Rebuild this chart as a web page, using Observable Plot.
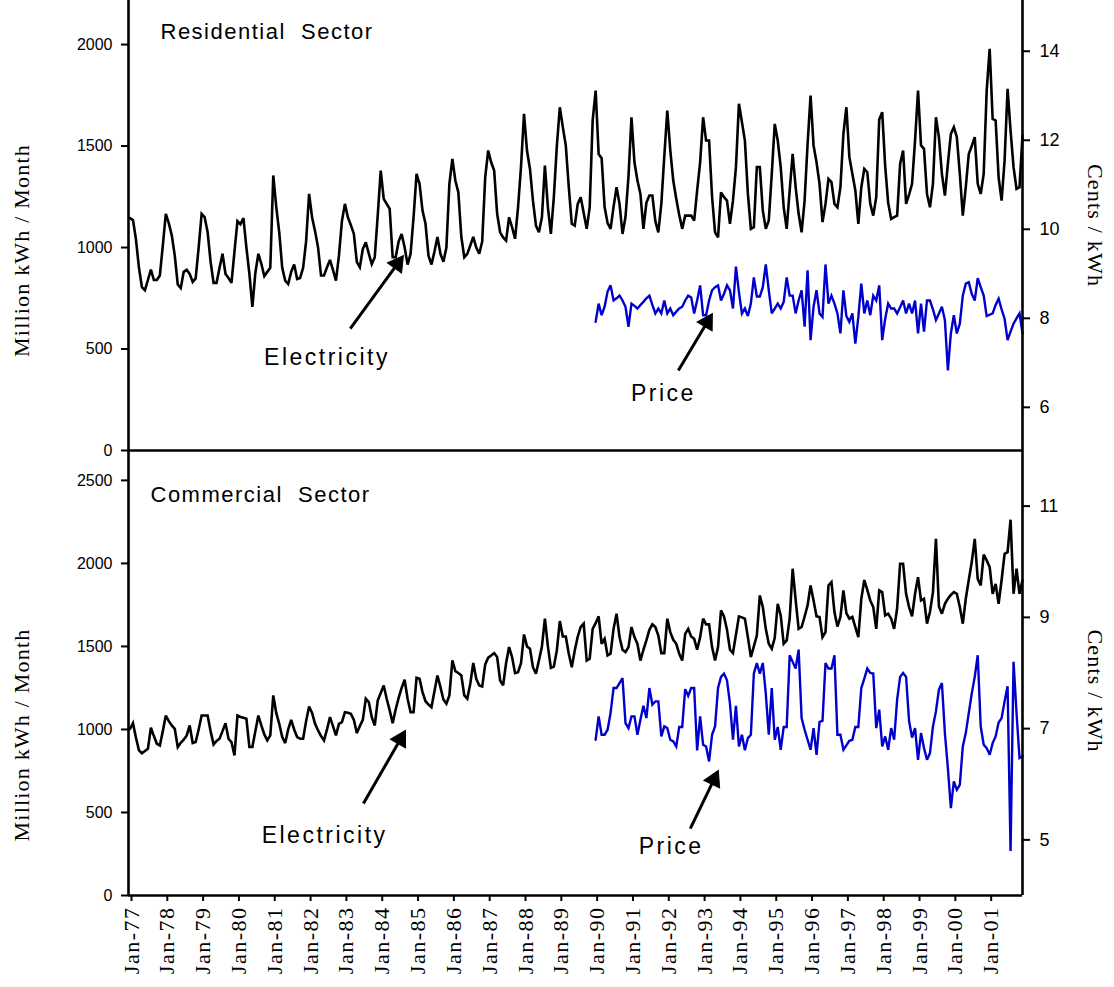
<!DOCTYPE html>
<html>
<head>
<meta charset="utf-8">
<script src="https://cdn.jsdelivr.net/npm/d3@7"></script>
<script src="https://cdn.jsdelivr.net/npm/@observablehq/plot@0.6"></script>
<style>
  html, body { margin: 0; padding: 0; background: #fff; }
  #chart { width: 1114px; height: 987px; position: relative; overflow: hidden; background:#fff; }
  #chart svg { display: block; overflow: visible; }
  g[aria-description="annotation"] text { letter-spacing: 2.5px; }
  g[aria-description="panel-title"] text { letter-spacing: 1.5px; }
  g[aria-description="axis-title"] text { letter-spacing: 1.2px; }
  g[aria-label="x-axis tick label"] text { letter-spacing: 1.5px; }
</style>
</head>
<body>
<div id="chart"></div>
<script>
// ---------------- data ----------------
const tickLabels = ["Jan-77","Jan-78","Jan-79","Jan-80","Jan-81","Jan-82","Jan-83","Jan-84","Jan-85","Jan-86","Jan-87","Jan-88","Jan-89","Jan-90","Jan-91","Jan-92","Jan-93","Jan-94","Jan-95","Jan-96","Jan-97","Jan-98","Jan-99","Jan-00","Jan-01"];
const priceStartMonth = 156; // Jan-90 (months since Jan-77)

// Residential electricity, million kWh / month, Jan-77 .. Dec-01
const resElectricity = [
  1145,1135,1040,900,805,790,840,891,840,840,862,1010,
  1166,1120,1060,960,818,800,880,890,870,830,848,1000,
  1166,1150,1077,930,826,826,900,969,870,850,826,980,
  1130,1115,1145,1000,870,708,875,969,920,859,880,900,
  1355,1200,1075,900,837,820,880,916,845,850,900,1030,
  1264,1149,1080,1001,862,862,903,939,890,837,960,1130,
  1215,1149,1110,1067,928,903,993,1026,970,918,952,1160,
  1379,1240,1215,1190,952,952,1030,1067,1001,916,969,1150,
  1363,1314,1182,1117,960,916,980,1052,969,930,1000,1314,
  1437,1330,1272,1052,952,969,1010,1052,1000,969,1030,1346,
  1478,1420,1379,1166,1075,1050,1034,1149,1100,1043,1198,1400,
  1659,1478,1387,1231,1108,1075,1149,1404,1198,1067,1250,1500,
  1691,1593,1503,1297,1117,1108,1215,1248,1170,1092,1198,1626,
  1773,1461,1440,1200,1120,1092,1200,1297,1215,1067,1150,1350,
  1642,1420,1330,1264,1092,1220,1256,1256,1130,1075,1215,1450,
  1675,1480,1330,1240,1160,1092,1157,1157,1157,1133,1280,1420,
  1642,1527,1527,1250,1075,1050,1272,1248,1231,1117,1231,1396,
  1708,1618,1527,1264,1092,1100,1396,1396,1182,1092,1133,1363,
  1609,1527,1396,1198,1092,1281,1461,1297,1166,1075,1231,1510,
  1748,1503,1420,1314,1125,1215,1338,1322,1215,1198,1297,1560,
  1691,1445,1363,1281,1117,1297,1387,1371,1215,1157,1248,1630,
  1667,1400,1220,1141,1150,1157,1412,1478,1215,1260,1314,1527,
  1773,1503,1486,1264,1198,1314,1642,1544,1363,1256,1412,1560,
  1593,1544,1363,1157,1297,1461,1500,1544,1314,1264,1363,1773,
  1979,1634,1626,1346,1231,1428,1782,1576,1396,1289,1297,1552
];
// Residential price, cents / kWh, Jan-90 .. Dec-01
const resPrice = [
  7.92,8.33,8.07,8.26,8.60,8.74,8.40,8.45,8.51,8.40,8.26,7.81,
  8.33,8.28,8.22,8.30,8.37,8.45,8.51,8.30,8.11,8.22,8.11,8.40,
  8.11,8.22,8.07,8.15,8.22,8.26,8.40,8.51,8.47,8.11,8.40,8.74,
  8.07,8.07,8.40,8.63,8.70,8.74,8.40,8.55,8.74,8.63,8.22,9.16,
  8.59,8.11,8.22,8.05,8.33,8.92,8.49,8.49,8.70,9.21,8.63,8.11,
  8.22,8.33,8.22,8.37,8.92,8.51,8.51,8.11,8.40,8.63,7.81,9.08,
  7.51,8.26,8.63,8.11,8.03,9.21,8.33,8.51,8.33,8.11,7.66,8.63,
  8.05,7.92,8.11,7.43,8.03,8.78,8.11,8.40,8.07,8.51,8.40,8.74,
  7.51,7.99,8.33,8.22,8.22,8.11,8.25,8.40,8.11,8.33,8.11,8.40,
  7.66,8.33,7.70,8.40,8.40,8.20,7.96,8.11,8.26,7.96,6.83,7.66,
  8.07,7.66,7.88,8.51,8.78,8.81,8.55,8.40,8.90,8.70,8.51,8.05,
  8.08,8.11,8.30,8.44,8.20,7.99,7.51,7.70,7.88,8.00,8.11,7.66
];
// Commercial electricity, million kWh / month, Jan-77 .. Dec-01
const comElectricity = [
  1004,1038,950,874,857,870,883,1010,960,914,904,990,
  1084,1050,1024,1004,894,920,938,964,1024,918,924,1000,
  1084,1084,1084,990,910,930,944,990,1038,944,924,843,
  1084,1075,1070,1064,894,894,990,1084,1024,970,934,964,
  1205,1100,1034,954,918,1000,1058,1000,954,944,944,1050,
  1138,1100,1034,994,960,934,1000,1074,1020,964,1034,1044,
  1104,1100,1094,1058,978,1020,1058,1185,1165,1074,1024,1175,
  1220,1265,1185,1115,1038,1120,1190,1250,1299,1185,1104,1104,
  1311,1305,1225,1170,1150,1134,1230,1325,1255,1180,1155,1205,
  1416,1351,1340,1325,1205,1185,1275,1400,1305,1265,1259,1392,
  1432,1445,1460,1436,1295,1265,1400,1496,1436,1339,1345,1400,
  1572,1500,1486,1375,1335,1416,1500,1667,1500,1371,1379,1476,
  1653,1560,1560,1456,1375,1476,1560,1617,1637,1415,1426,1606,
  1640,1681,1516,1546,1446,1456,1606,1697,1556,1480,1466,1496,
  1617,1556,1516,1415,1480,1536,1600,1633,1617,1566,1460,1460,
  1667,1586,1540,1516,1456,1415,1576,1606,1560,1546,1480,1556,
  1667,1633,1633,1496,1415,1496,1717,1681,1600,1480,1460,1570,
  1681,1675,1667,1556,1436,1500,1566,1807,1737,1606,1516,1486,
  1552,1757,1687,1516,1536,1667,1968,1780,1606,1617,1680,1747,
  1867,1777,1681,1677,1556,1586,1867,1887,1707,1620,1677,1837,
  1700,1667,1677,1617,1556,1787,1900,1840,1777,1737,1606,1837,
  1827,1687,1697,1667,1606,1730,1998,1998,1817,1737,1681,1817,
  1917,1777,1787,1637,1707,1827,2148,1741,1697,1757,1787,1810,
  1827,1817,1737,1637,1787,1900,2008,2148,1907,1867,2053,2018,
  1978,1817,1877,1757,1900,2058,2068,2263,1817,1968,1817,1900
];
// Commercial price, cents / kWh, Jan-90 .. Dec-01
const comPrice = [
  6.80,7.22,6.89,6.89,6.98,7.28,7.73,7.73,7.82,7.91,7.10,7.01,
  7.22,7.22,6.89,7.16,7.41,7.19,7.73,7.43,7.49,7.49,6.86,7.04,
  7.01,6.80,6.77,6.68,7.03,7.03,7.71,7.59,7.73,7.73,6.61,7.22,
  6.71,6.68,6.41,6.89,7.04,7.73,7.93,7.99,7.87,7.45,6.80,7.41,
  6.68,6.89,6.61,6.83,6.89,7.99,8.18,7.99,8.18,7.63,6.89,7.73,
  6.80,7.03,6.62,7.03,7.03,8.32,8.20,8.08,8.42,7.19,6.98,6.80,
  6.62,7.01,6.53,7.12,7.14,8.18,8.08,8.08,8.32,6.89,6.89,6.62,
  6.70,6.78,6.80,7.03,7.03,7.73,7.90,8.08,8.00,7.99,7.01,7.34,
  6.68,6.86,6.62,7.01,6.80,7.52,7.93,8.00,7.93,7.14,6.84,7.01,
  6.44,6.92,6.65,6.44,6.56,7.04,7.31,7.70,7.82,6.92,6.29,5.57,
  6.05,5.90,5.99,6.68,6.92,7.28,7.63,7.93,8.32,7.04,6.71,6.65,
  6.53,6.74,6.86,7.11,7.19,7.49,7.76,4.80,8.20,7.28,6.47,6.50
];

const resLeftTicks = [0, 500, 1000, 1500, 2000];
const resRightTicks = [6, 8, 10, 12, 14];
const comLeftTicks = [0, 500, 1000, 1500, 2000, 2500];
const comRightTicks = [5, 7, 9, 11];

// annotation anchors, in data space (month index, left-axis value)
const resAnnotations = [
  {label: "Electricity", tx: 66, ty: 458, x1: 73.8, y1: 601, x2: 91.6, y2: 960},
  {label: "Price", tx: 178.7, ty: 281, x1: 183.7, y1: 394, x2: 195.1, y2: 675}
];
const comAnnotations = [
  {label: "Electricity", tx: 65.2, ty: 361, x1: 78.2, y1: 554, x2: 92.3, y2: 994},
  {label: "Price", tx: 181.3, ty: 295, x1: 187.7, y1: 403, x2: 197.1, y2: 753}
];

// ---------------- layout ----------------
const W = 1114;
const ML = 128, MR = 92;
const xDomain = [-0.5, 299];
const topH = 450;
const botPlotH = 445;
const botH = 537;
const resLeftDomain = [0, 2217];
const resRightDomain = [5.03, 15.14];
const comLeftDomain = [0, 2680];
const comRightDomain = [4, 12];

const lin = (d0, r0) => v => r0[0] + (v - d0[0]) / (d0[1] - d0[0]) * (r0[1] - r0[0]);
const resToLeft = lin(resRightDomain, resLeftDomain);
const resFromLeft = lin(resLeftDomain, resRightDomain);
const comToLeft = lin(comRightDomain, comLeftDomain);
const comFromLeft = lin(comLeftDomain, comRightDomain);

const tickPositions = tickLabels.map((_, i) => i * 12 + 0.5);
const labelOf = v => tickLabels[Math.round((v - 0.5) / 12)];

const BLUE = "#0000cc";
const SANS = "Liberation Sans, Arial, Helvetica, sans-serif";
const SERIF = "Liberation Serif, Times New Roman, serif";
const HEAD_R = 6.5;

function arrowParts(ann, yDomain, plotH) {
  const pxX = v => ML + (v - xDomain[0]) / (xDomain[1] - xDomain[0]) * (W - ML - MR);
  const pxY = v => plotH - (v - yDomain[0]) / (yDomain[1] - yDomain[0]) * plotH;
  return ann.map(a => {
    const dx = pxX(a.x2) - pxX(a.x1), dy = pxY(a.y2) - pxY(a.y1);
    const L = Math.hypot(dx, dy);
    const ysz = Math.sqrt(Math.PI * HEAD_R * HEAD_R / (Math.sqrt(3) * 3));
    const f = (2 * ysz) / L;
    return {...a, cx: a.x2 + (a.x1 - a.x2) * f, cy: a.y2 + (a.y1 - a.y2) * f,
            angle: Math.atan2(dx, -dy) * 180 / Math.PI};
  });
}

function panel({elec, price, toLeft, fromLeft, leftDomain, leftTicks, rightTicks,
                height, plotH, marginTop, marginBottom, title, titleDx, titleDy, ann, xAxis, leftTitleDy, rightTitleDy}) {
  const elecData = elec.map((v, i) => ({m: i, v}));
  const priceData = price.map((p, i) => ({m: priceStartMonth + i, v: toLeft(p)}));
  const arrows = arrowParts(ann, leftDomain, plotH);
  const marks = [
    Plot.line(elecData, {x: "m", y: "v", stroke: "black", strokeWidth: 2.6, strokeLinejoin: "miter", strokeMiterlimit: 3}),
    Plot.line(priceData, {x: "m", y: "v", stroke: BLUE, strokeWidth: 2.4, strokeLinejoin: "miter", strokeMiterlimit: 3}),
    Plot.ruleX(xDomain, {stroke: "black", strokeWidth: 2.6}),
    Plot.ruleY([leftDomain[0]], {stroke: "black", strokeWidth: 2.6}),
    Plot.axisY(leftTicks, {anchor: "left", tickSize: 7, tickPadding: 9, strokeWidth: 2, fontSize: 16, fontFamily: SANS, label: null, tickFormat: d => String(d)}),
    Plot.axisY(rightTicks.map(toLeft), {anchor: "right", tickSize: 7, tickPadding: 10, strokeWidth: 2, fontSize: 18, fontFamily: SANS, label: null, tickFormat: v => String(Math.round(fromLeft(v)))}),
    Plot.text(["Million kWh / Month"], {frameAnchor: "left", dx: -107, dy: leftTitleDy, rotate: -90, textAnchor: "middle", lineAnchor: "middle", fontFamily: SERIF, fontSize: 22, ariaDescription: "axis-title"}),
    Plot.text(["Cents / kWh"], {frameAnchor: "right", dx: 73, dy: rightTitleDy, rotate: 90, textAnchor: "middle", lineAnchor: "middle", fontFamily: SERIF, fontSize: 22, ariaDescription: "axis-title"}),
    Plot.text([title], {frameAnchor: "top-left", dx: titleDx, dy: titleDy, lineAnchor: "middle", textAnchor: "start", fontFamily: SANS, fontSize: 22, ariaDescription: "panel-title"}),
    Plot.text(arrows, {x: "tx", y: "ty", text: "label", fontFamily: SANS, fontSize: 23, lineAnchor: "middle", ariaDescription: "annotation"}),
    Plot.link(arrows, {x1: "x1", y1: "y1", x2: "cx", y2: "cy", stroke: "black", strokeWidth: 3}),
    Plot.dot(arrows, {x: "cx", y: "cy", symbol: "triangle", r: HEAD_R, rotate: "angle", fill: "black", stroke: "black", strokeWidth: 1})
  ];
  if (xAxis) marks.push(Plot.axisX(tickPositions, {anchor: "bottom", tickSize: 6, tickPadding: 5, tickRotate: -90, strokeWidth: 2, fontSize: 22, fontFamily: SERIF, label: null, tickFormat: labelOf}));
  return Plot.plot({
    width: W, height, marginLeft: ML, marginRight: MR, marginTop, marginBottom,
    style: {overflow: "visible", background: "transparent", fontFamily: SANS, fontSize: "16px", color: "black"},
    x: {domain: xDomain, axis: null},
    y: {domain: leftDomain, axis: null},
    marks
  });
}

const topPanel = panel({
  elec: resElectricity, price: resPrice, toLeft: resToLeft, fromLeft: resFromLeft,
  leftDomain: resLeftDomain, leftTicks: resLeftTicks, rightTicks: resRightTicks,
  height: topH, plotH: topH, marginTop: 0, marginBottom: 0,
  title: "Residential  Sector", titleDx: 32, titleDy: 31, ann: resAnnotations, xAxis: false,
  leftTitleDy: 25, rightTitleDy: 0
});
const bottomPanel = panel({
  elec: comElectricity, price: comPrice, toLeft: comToLeft, fromLeft: comFromLeft,
  leftDomain: comLeftDomain, leftTicks: comLeftTicks, rightTicks: comRightTicks,
  height: botH, plotH: botPlotH, marginTop: 0, marginBottom: botH - botPlotH,
  title: "Commercial  Sector", titleDx: 22, titleDy: 44, ann: comAnnotations, xAxis: true,
  leftTitleDy: 62, rightTitleDy: 18
});
document.getElementById("chart").append(topPanel, bottomPanel);
</script>
</body>
</html>
